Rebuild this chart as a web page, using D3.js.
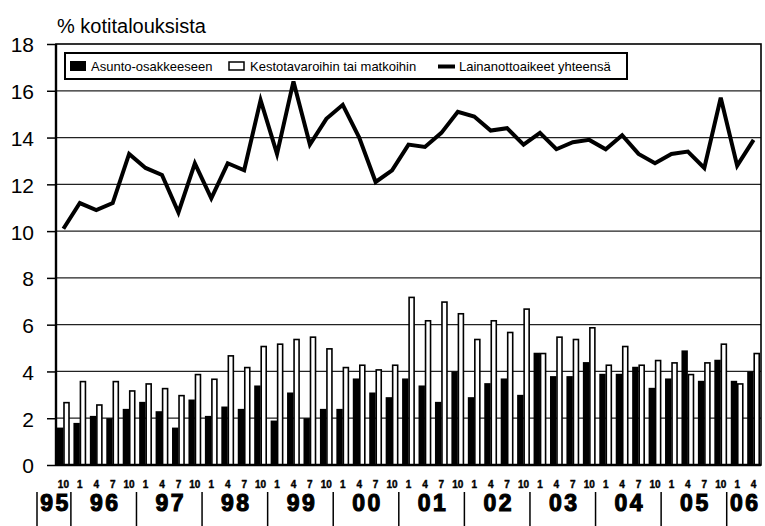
<!DOCTYPE html>
<meta charset="utf-8">
<title>Lainanottoaikeet</title>
<script src="https://cdn.jsdelivr.net/npm/d3@7"></script>
<style>
    body { margin: 0; background: #fff; }
    text { font-family: "Liberation Sans", Arial, sans-serif; fill: #000; }
</style>
<div id="chart"></div>
<script>
    // quarter month labels, 10/1995 .. 4/2006
    var months = [10, 1, 4, 7, 10, 1, 4, 7, 10, 1, 4, 7, 10, 1, 4, 7, 10, 1, 4, 7, 10,
        1, 4, 7, 10, 1, 4, 7, 10, 1, 4, 7, 10, 1, 4, 7, 10, 1, 4, 7, 10, 1, 4];
    var years = ["95", "96", "97", "98", "99", "00", "01", "02", "03", "04", "05", "06"];
    // index of the first quarter of each year
    var yearStart = [0, 1, 5, 9, 13, 17, 21, 25, 29, 33, 37, 41];

    var asunto = [1.6, 1.8, 2.1, 2.0, 2.4, 2.7, 2.3, 1.6, 2.8, 2.1, 2.5, 2.4, 3.4, 1.9, 3.1, 2.0, 2.4,
        2.4, 3.7, 3.1, 2.9, 3.7, 3.4, 2.7, 4.0, 2.9, 3.5, 3.7, 3.0, 4.8, 3.8, 3.8, 4.4, 3.9, 3.9,
        4.2, 3.3, 3.7, 4.9, 3.6, 4.5, 3.6, 4.0];
    var kesto = [2.7, 3.6, 2.6, 3.6, 3.2, 3.5, 3.3, 3.0, 3.9, 3.7, 4.7, 4.2, 5.1, 5.2, 5.4, 5.5, 5.0,
        4.2, 4.3, 4.1, 4.3, 7.2, 6.2, 7.0, 6.5, 5.4, 6.2, 5.7, 6.7, 4.8, 5.5, 5.4, 5.9, 4.3, 5.1,
        4.3, 4.5, 4.4, 3.9, 4.4, 5.2, 3.5, 4.8];
    var yhteensa = [10.1, 11.2, 10.9, 11.2, 13.3, 12.7, 12.4, 10.8, 12.9, 11.4, 12.9, 12.6, 15.6, 13.3,
        16.4, 13.7, 14.8, 15.4, 14.0, 12.1, 12.6, 13.7, 13.6, 14.2, 15.1, 14.9, 14.3, 14.4, 13.7,
        14.2, 13.5, 13.8, 13.9, 13.5, 14.1, 13.3, 12.9, 13.3, 13.4, 12.7, 15.7, 12.8, 13.9];
    var yTicks = [0, 2, 4, 6, 8, 10, 12, 14, 16, 18];

    var W = 765, H = 526;
    // plot area edges (window.top is reserved, so no "top")
    var pLeft = 56, pRight = 761, pTop = 44, pBottom = 465;

    var svg = d3.select("#chart").append("svg")
        .attr("width", W)
        .attr("height", H);

    var idx = d3.range(months.length);

    var x = d3.scaleBand()
        .domain(idx)
        .range([pLeft, pRight])
        .paddingInner(0.22)
        .paddingOuter(0.06);
    var xl = d3.scaleLinear().domain([0, months.length]).range([pLeft, pRight]);
    var y = d3.scaleLinear().domain([0, 18]).range([pBottom, pTop]);

    // title
    svg.append("text")
        .attr("x", 57)
        .attr("y", 33)
        .style("font-size", "20px")
        .text("% kotitalouksista");

    // gridlines
    svg.append("g").selectAll("line")
        .data(yTicks.slice(1, -1))
        .enter().append("line")
        .attr("x1", pLeft).attr("x2", pRight)
        .attr("y1", function(d) { return y(d); })
        .attr("y2", function(d) { return y(d); })
        .attr("stroke", "#222")
        .attr("stroke-width", 1.2);

    // y axis
    var yAxis = svg.append("g")
        .attr("transform", "translate(" + pLeft + ",0)")
        .call(d3.axisLeft(y).tickValues(yTicks).tickSize(9).tickPadding(13));
    yAxis.select(".domain").remove();
    yAxis.selectAll(".tick line").attr("stroke", "#000").attr("stroke-width", 1.5);
    yAxis.selectAll(".tick text")
        .style("font-size", "21px")
        .style("font-family", "'Liberation Sans', Arial, sans-serif")
        .attr("dy", "0.38em")
        .attr("fill", "#000");

    // bars
    var bw = x.bandwidth() / 2;
    svg.append("g").selectAll("rect")
        .data(idx)
        .enter().append("rect")
        .attr("x", function(i) { return x(i); })
        .attr("y", function(i) { return y(asunto[i]); })
        .attr("width", bw)
        .attr("height", function(i) { return y(0) - y(asunto[i]); })
        .attr("fill", "#000");

    svg.append("g").selectAll("rect")
        .data(idx)
        .enter().append("rect")
        .attr("x", function(i) { return x(i) + bw + 0.6; })
        .attr("y", function(i) { return y(kesto[i]) + 0.8; })
        .attr("width", bw - 1.4)
        .attr("height", function(i) { return y(0) - y(kesto[i]) - 0.8; })
        .attr("fill", "#fff")
        .attr("stroke", "#000")
        .attr("stroke-width", 1.6);

    // line
    var line = d3.line()
        .x(function(d, i) { return x(i) + x.bandwidth() / 2; })
        .y(function(d) { return y(d); });
    svg.append("path")
        .datum(yhteensa)
        .attr("d", line)
        .attr("fill", "none")
        .attr("stroke", "#000")
        .attr("stroke-width", 4)
        .attr("stroke-linejoin", "miter");

    // frame
    svg.append("rect")
        .attr("x", pLeft).attr("y", pTop)
        .attr("width", pRight - pLeft).attr("height", pBottom - pTop)
        .attr("fill", "none")
        .attr("stroke", "#000")
        .attr("stroke-width", 1.6);
    svg.append("line")
        .attr("x1", pLeft).attr("x2", pLeft).attr("y1", pTop).attr("y2", pBottom)
        .attr("stroke", "#000").attr("stroke-width", 2.4);
    svg.append("line")
        .attr("x1", pLeft).attr("x2", pRight).attr("y1", pBottom).attr("y2", pBottom)
        .attr("stroke", "#000").attr("stroke-width", 2.4);

    // legend
    var lg = svg.append("g");
    lg.append("rect")
        .attr("x", 65).attr("y", 53).attr("width", 562).attr("height", 26)
        .attr("fill", "#fff").attr("stroke", "#000").attr("stroke-width", 2);
    lg.append("rect")
        .attr("x", 70).attr("y", 61).attr("width", 16).attr("height", 10)
        .attr("fill", "#000");
    lg.append("text").attr("x", 91).attr("y", 71).style("font-size", "13px")
        .text("Asunto-osakkeeseen");
    lg.append("rect")
        .attr("x", 229).attr("y", 62).attr("width", 15).attr("height", 8)
        .attr("fill", "#fff").attr("stroke", "#000").attr("stroke-width", 1.5);
    lg.append("text").attr("x", 250).attr("y", 71).style("font-size", "13px")
        .text("Kestotavaroihin tai matkoihin");
    lg.append("line")
        .attr("x1", 438).attr("x2", 455).attr("y1", 66.5).attr("y2", 66.5)
        .attr("stroke", "#000").attr("stroke-width", 4);
    lg.append("text").attr("x", 459).attr("y", 71).style("font-size", "13px")
        .text("Lainanottoaikeet yhteensä");

    // month labels
    svg.append("g").selectAll("text")
        .data(idx)
        .enter().append("text")
        .attr("x", function(i) { return x(i) + x.bandwidth() / 2; })
        .attr("y", 488)
        .attr("text-anchor", "middle")
        .style("font-size", "10px")
        .style("font-weight", "bold")
        .attr("stroke", "#000")
        .attr("stroke-width", 0.4)
        .text(function(i) { return months[i]; });

    // year separators and labels
    var sep = yearStart.map(function(s, k) { return k === 0 ? 37 : xl(s) - 1.5; });
    sep.push(pRight);
    svg.append("g").selectAll("line")
        .data(sep.slice(0, -1))
        .enter().append("line")
        .attr("x1", function(d) { return d; })
        .attr("x2", function(d) { return d; })
        .attr("y1", 492).attr("y2", 526)
        .attr("stroke", "#000").attr("stroke-width", 1.5);
    svg.append("g").selectAll("text")
        .data(years)
        .enter().append("text")
        .attr("x", function(d, k) { return (sep[k] + sep[k + 1]) / 2 + 1.5; })
        .attr("y", 511)
        .attr("text-anchor", "middle")
        .style("font-size", "23px")
        .style("font-weight", "bold")
        .style("letter-spacing", "2.5px")
        .attr("stroke", "#000")
        .attr("stroke-width", 1.1)
        .text(function(d) { return d; });
</script>
